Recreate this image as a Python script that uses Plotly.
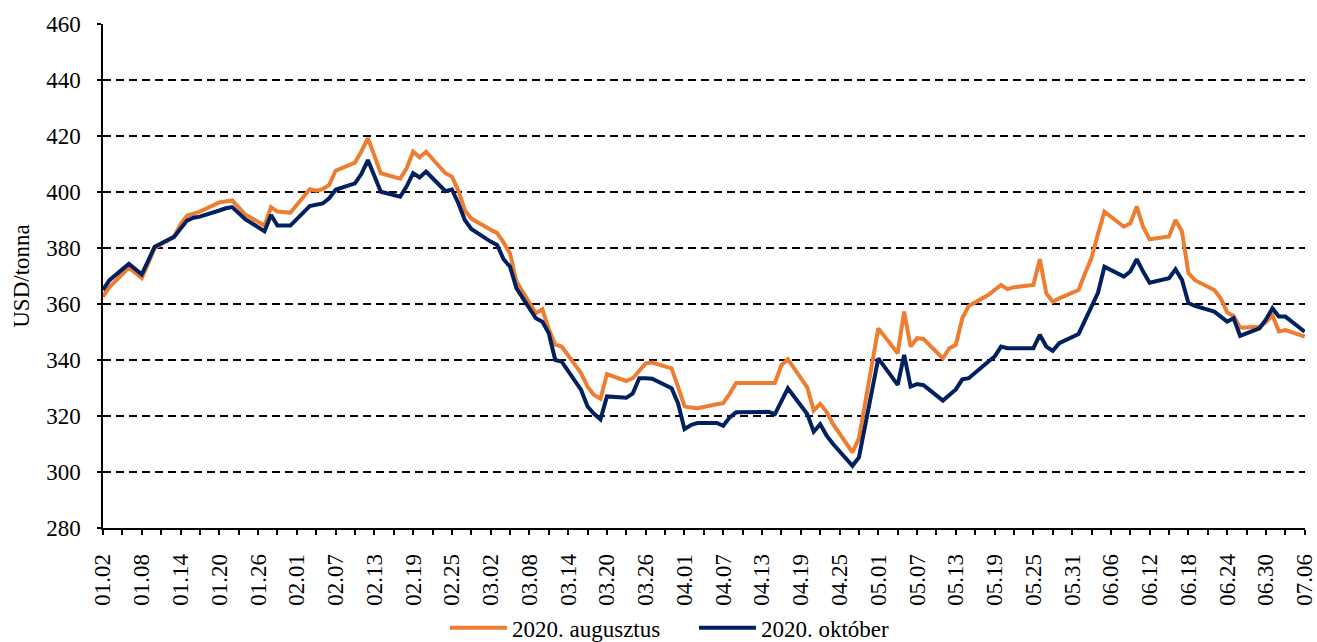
import plotly.graph_objects as go

dates = [
    "2020-01-02", "2020-01-03", "2020-01-06", "2020-01-07", "2020-01-08", "2020-01-09", "2020-01-10",
    "2020-01-13", "2020-01-14", "2020-01-15", "2020-01-16", "2020-01-17",
    "2020-01-20", "2020-01-21", "2020-01-22", "2020-01-23", "2020-01-24",
    "2020-01-27", "2020-01-28", "2020-01-29", "2020-01-30", "2020-01-31",
    "2020-02-03", "2020-02-04", "2020-02-05", "2020-02-06", "2020-02-07",
    "2020-02-10", "2020-02-11", "2020-02-12", "2020-02-13", "2020-02-14",
    "2020-02-17", "2020-02-18", "2020-02-19", "2020-02-20", "2020-02-21",
    "2020-02-24", "2020-02-25", "2020-02-26", "2020-02-27", "2020-02-28",
    "2020-03-02", "2020-03-03", "2020-03-04", "2020-03-05", "2020-03-06",
    "2020-03-09", "2020-03-10", "2020-03-11", "2020-03-12", "2020-03-13",
    "2020-03-16", "2020-03-17", "2020-03-18", "2020-03-19", "2020-03-20",
    "2020-03-23", "2020-03-24", "2020-03-25", "2020-03-26", "2020-03-27",
    "2020-03-30", "2020-03-31", "2020-04-01", "2020-04-02", "2020-04-03",
    "2020-04-06", "2020-04-07", "2020-04-08", "2020-04-09", "2020-04-10",
    "2020-04-13", "2020-04-14", "2020-04-15", "2020-04-16", "2020-04-17",
    "2020-04-20", "2020-04-21", "2020-04-22", "2020-04-23", "2020-04-24",
    "2020-04-27", "2020-04-28", "2020-04-29", "2020-04-30", "2020-05-01",
    "2020-05-04", "2020-05-05", "2020-05-06", "2020-05-07", "2020-05-08",
    "2020-05-11", "2020-05-12", "2020-05-13", "2020-05-14", "2020-05-15",
    "2020-05-18", "2020-05-19", "2020-05-20", "2020-05-21", "2020-05-22",
    "2020-05-25", "2020-05-26", "2020-05-27", "2020-05-28", "2020-05-29",
    "2020-06-01", "2020-06-02", "2020-06-03", "2020-06-04", "2020-06-05",
    "2020-06-08", "2020-06-09", "2020-06-10", "2020-06-11", "2020-06-12",
    "2020-06-15", "2020-06-16", "2020-06-17", "2020-06-18", "2020-06-19",
    "2020-06-22", "2020-06-23", "2020-06-24", "2020-06-25", "2020-06-26",
    "2020-06-29", "2020-06-30", "2020-07-01", "2020-07-02", "2020-07-03",
    "2020-07-06",
]

aug_2020 = [
    362.6, 366.0, 373.0, 371.0, 369.3, 374.5, 380.0,
    384.0, 388.5, 391.5, 392.3, 393.0,
    396.3, 396.8, 397.0, 394.5, 392.0,
    388.0, 394.6, 393.0, 392.8, 392.6,
    401.0, 400.5, 401.0, 402.5, 407.6,
    410.5, 414.5, 419.2, 413.0, 406.7,
    404.8, 408.5, 414.4, 412.4, 414.4,
    406.7, 405.5, 400.5, 393.5, 390.5,
    386.5, 385.3, 382.0, 378.0, 368.0,
    356.7, 358.1, 351.0, 345.5, 344.8,
    335.3, 330.5, 327.5, 326.2, 335.0,
    332.5, 333.5, 336.0, 338.8, 339.1,
    337.0, 330.5, 323.5, 323.0, 322.8,
    324.2, 324.6, 328.0, 331.8, 331.8,
    331.8, 331.8, 331.8, 338.2, 340.3,
    330.2, 322.0, 324.3, 321.5, 317.1,
    307.0, 312.0, 325.0, 338.0, 351.3,
    342.4, 357.3, 344.8, 347.8, 347.5,
    340.6, 344.2, 345.4, 354.9, 359.3,
    363.2, 365.0, 366.8, 365.3, 366.0,
    366.8, 376.0, 363.8, 360.8, 362.0,
    365.0, 371.0, 376.5, 385.0, 393.0,
    387.6, 388.8, 394.8, 387.5, 383.1,
    384.1, 390.0, 385.9, 371.0, 368.5,
    365.0, 362.0, 357.0, 355.7, 351.5,
    351.9, 353.5, 356.0, 350.2, 350.7,
    348.4,
]

okt_2020 = [
    365.0, 368.5, 374.3, 372.5, 370.6, 375.5, 380.5,
    384.0, 387.0, 389.8, 390.8, 391.2,
    393.4, 394.2, 394.6, 392.5, 390.3,
    386.0, 391.8, 388.0, 388.0, 388.0,
    395.0, 395.3, 395.9, 397.7, 400.8,
    403.1, 406.5, 411.4, 405.5, 400.1,
    398.3, 402.0, 406.7, 405.2, 407.3,
    400.3, 400.9, 396.0, 390.0, 386.8,
    382.3, 381.1, 376.0, 373.3, 365.6,
    354.9, 353.7, 349.5, 340.0, 339.4,
    329.3, 323.4, 320.8, 318.8, 327.0,
    326.5, 328.1, 333.5, 333.5, 333.3,
    329.9, 324.6, 315.3, 316.8, 317.5,
    317.5, 316.5, 319.5, 321.3, 321.4,
    321.5, 321.5, 320.7, 325.5, 329.9,
    320.7, 314.4, 317.1, 313.0, 310.0,
    302.2, 305.2, 317.0, 329.0, 340.6,
    331.1, 341.8, 330.5, 331.4, 331.0,
    325.5, 327.5, 329.5, 333.1, 333.5,
    339.4, 341.2, 344.8, 344.2, 344.2,
    344.2, 349.0, 344.8, 343.3, 346.0,
    349.3, 354.0, 359.5, 364.0, 373.3,
    369.8, 371.6, 376.0, 371.5, 367.6,
    369.2, 372.4, 368.6, 360.3, 359.3,
    357.3, 355.5, 353.7, 354.9, 348.6,
    351.3, 354.5, 358.5, 355.5, 355.5,
    350.1,
]

series_names = ["2020. augusztus", "2020. október"]
series_colors = ["#ED7D31", "#002060"]
y_title = "USD/tonna"

FONT = "Liberation Serif, Times New Roman, serif"
DAY_MS = 86400000

fig = go.Figure()
for name, vals, col in zip(series_names, [aug_2020, okt_2020], series_colors):
    fig.add_trace(go.Scatter(
        x=dates, y=vals, mode="lines", name=name,
        line=dict(color=col, width=4),
    ))

fig.update_layout(
    width=1317, height=642, autosize=False,
    paper_bgcolor="white", plot_bgcolor="white",
    margin=dict(l=103, r=12, t=24, b=114, autoexpand=False),
    font=dict(family=FONT, size=23, color="black"),
    showlegend=True,
    legend=dict(
        orientation="h", x=0.2845, xanchor="left", y=-0.198, yanchor="middle",
        font=dict(family=FONT, size=23, color="black"),
        itemwidth=57, entrywidth=177, entrywidthmode="pixels",
        tracegroupgap=0, bgcolor="rgba(0,0,0,0)",
    ),
)

fig.update_xaxes(
    type="date",
    range=["2020-01-02", "2020-07-06 01:00"],
    tick0="2020-01-02", dtick=6 * DAY_MS,
    tickformat="%m.%d", tickangle=-90,
    ticks="outside", ticklen=5, tickwidth=1.5, tickcolor="black",
    ticklabelstandoff=10, ticklabeloverflow="allow",
    minor=dict(tick0="2020-01-02", dtick=3 * DAY_MS, ticks="outside",
               ticklen=5, tickwidth=1.5, tickcolor="black", showgrid=False),
    showline=True, linecolor="black", linewidth=1.5,
    showgrid=False, zeroline=False,
    tickfont=dict(family=FONT, size=23, color="black"),
)

fig.update_yaxes(
    range=[280, 460], dtick=20, tick0=280,
    ticks="outside", ticklen=4, tickwidth=1.5, tickcolor="black",
    ticklabelstandoff=12,
    showline=True, linecolor="black", linewidth=1.5,
    showgrid=True, gridcolor="black", gridwidth=1.5, griddash="8px,5px",
    zeroline=False,
    tickfont=dict(family=FONT, size=23, color="black"),
    title=dict(text=y_title, standoff=10, font=dict(family=FONT, size=23, color="black")),
)

fig.write_html(
    "out.html",
    config={"displayModeBar": False},
    post_script="document.body.style.margin='0';document.body.style.overflow='hidden';",
)
